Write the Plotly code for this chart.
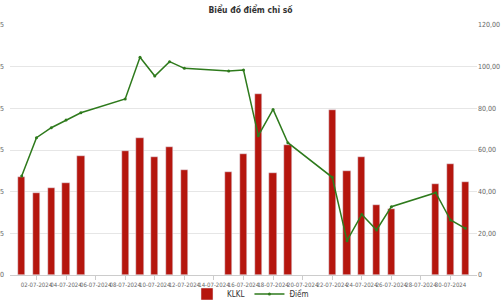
import plotly.graph_objects as go

dates = ["2024-07-01", "2024-07-02", "2024-07-03", "2024-07-04", "2024-07-05",
         "2024-07-08", "2024-07-09", "2024-07-10", "2024-07-11", "2024-07-12",
         "2024-07-15", "2024-07-16", "2024-07-17", "2024-07-18", "2024-07-19",
         "2024-07-22", "2024-07-23", "2024-07-24", "2024-07-25", "2024-07-26",
         "2024-07-29", "2024-07-30", "2024-07-31"]
klkl = [46.9, 39.2, 41.9, 44.0, 57.1,
        59.7, 65.8, 56.5, 61.4, 50.4,
        49.4, 58.1, 86.9, 49.1, 62.4,
        79.2, 49.8, 56.8, 33.6, 31.7,
        43.7, 53.3, 44.5]
diem = [47.5, 65.9, 70.7, 74.4, 77.9,
        84.5, 104.5, 95.5, 102.4, 99.2,
        97.9, 98.4, 66.9, 79.5, 63.5,
        46.9, 16.5, 29.1, 21.6, 32.8,
        39.5, 26.4, 22.4]
left_ticks = [0, 20, 40, 60, 80, 100, 120]
left_labels = ["0", "20,000,005", "40,000,005", "60,000,005", "80,000,005", "100,000,005", "120,000,005"]
right_ticks = [0, 20, 40, 60, 80, 100, 120]
right_labels = ["0", "20,00", "40,00", "60,00", "80,00", "100,00", "120,00"]

FONT = "DejaVu Sans Condensed, Liberation Sans Narrow, sans-serif"

fig = go.Figure()
fig.add_trace(go.Bar(x=dates, y=klkl, name="KLKL", marker_color="#b5160e",
                     width=0.5 * 86400000, yaxis="y"))
fig.add_trace(go.Scatter(x=dates, y=diem, name="Điểm", mode="lines+markers",
                         line=dict(color="#2e7a1c", width=1.5),
                         marker=dict(size=3, color="#2e7a1c"), yaxis="y2"))

fig.update_layout(
    width=501, height=300,
    margin=dict(l=10, r=24, t=25, b=25),
    paper_bgcolor="white", plot_bgcolor="white",
    font=dict(family=FONT, size=7, color="#666666"),
    title=dict(text="<b>Biểu đồ điểm chỉ số</b>", x=0.5, xanchor="center",
               y=0.965, yanchor="middle", font=dict(family=FONT, size=8.5, color="#333333")),
    bargap=0,
    showlegend=True,
    legend=dict(orientation="h", x=0.5, xanchor="center", xref="container",
                y=0.02, yanchor="middle", yref="container",
                bgcolor="rgba(0,0,0,0)",
                font=dict(family=FONT, size=8, color="#333333"), itemwidth=30,
                traceorder="normal", tracegroupgap=0),
    xaxis=dict(type="date", range=["2024-06-30 05:00", "2024-07-31 19:00"],
               tick0="2024-07-02", dtick=2 * 86400000, tickformat="%d-%m-%Y",
               tickangle=0, automargin=False,
               ticks="outside", ticklen=4, tickcolor="#cccccc",
               showline=True, linecolor="#cccccc", showgrid=False,
               tickfont=dict(family=FONT, size=6, color="#666666")),
    yaxis=dict(range=[0, 120], tickvals=left_ticks, ticktext=left_labels,
               showgrid=True, gridcolor="#e6e6e6", zeroline=False,
               ticklabelstandoff=5,
               automargin=False, tickfont=dict(family=FONT, size=7, color="#666666")),
    yaxis2=dict(range=[0, 120], tickvals=right_ticks, ticktext=right_labels,
                overlaying="y", side="right", showgrid=False, zeroline=False,
                automargin=False, tickfont=dict(family=FONT, size=7, color="#666666")),
)

fig.write_html("out.html")
